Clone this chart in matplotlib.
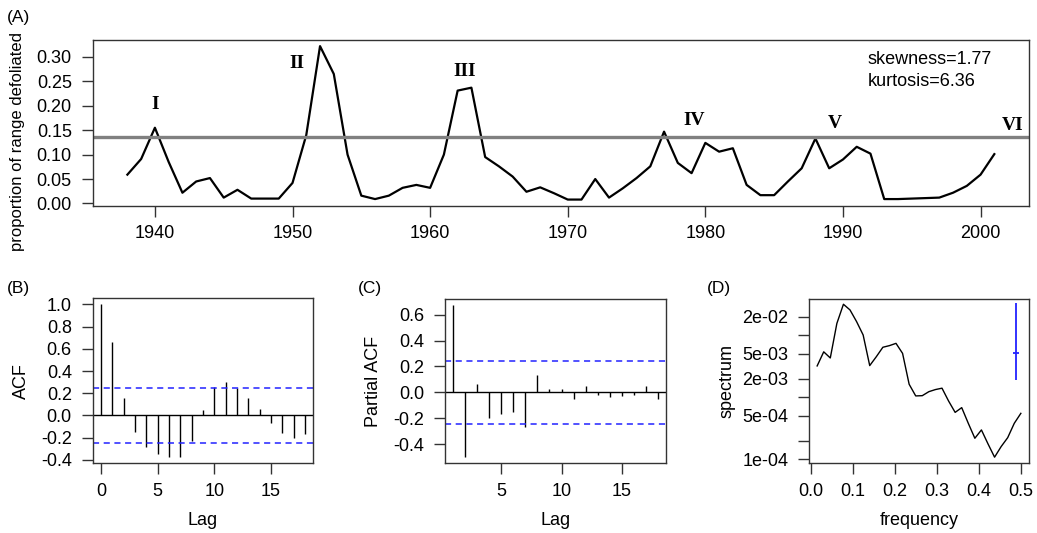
import numpy as np
import matplotlib
matplotlib.use("Agg")
import matplotlib.pyplot as plt

plt.rcParams['font.family'] = ['Liberation Sans', 'DejaVu Sans']

# (A) proportion of range defoliated, 1938-2001
years = np.arange(1938, 2002)
defol = [0.059, 0.091, 0.155, 0.085, 0.022, 0.045, 0.052, 0.012, 0.028, 0.010,
         0.010, 0.010, 0.042, 0.140, 0.322, 0.265, 0.100, 0.016, 0.009, 0.016,
         0.032, 0.038, 0.032, 0.100, 0.231, 0.237, 0.095, 0.076, 0.055, 0.024,
         0.033, 0.021, 0.008, 0.008, 0.050, 0.012, 0.031, 0.052, 0.076, 0.147,
         0.083, 0.062, 0.124, 0.106, 0.113, 0.038, 0.017, 0.017, 0.045, 0.072,
         0.133, 0.072, 0.090, 0.116, 0.102, 0.009, 0.009, 0.010, 0.011, 0.012,
         0.022, 0.036, 0.059, 0.101]
threshold = 0.137
outbreaks = ['I', 'II', 'III', 'IV', 'V', 'VI']
outbreak_x = [1940, 1950.3, 1962.5, 1979.2, 1989.4, 2002.3]
outbreak_y = [0.202, 0.287, 0.270, 0.170, 0.164, 0.159]
stats_text = ['skewness=1.77', 'kurtosis=6.36']

# (B) ACF
acf_lags = np.arange(0, 19)
acf_vals = [1.0, 0.663, 0.155, -0.149, -0.284, -0.346, -0.376, -0.376, -0.233,
            0.050, 0.260, 0.300, 0.245, 0.155, 0.060, -0.069, -0.158, -0.203, -0.167]

# (C) PACF
pacf_lags = np.arange(1, 19)
pacf_vals = [0.673, -0.499, 0.068, -0.196, -0.166, -0.151, -0.267, 0.136, 0.030,
             0.023, -0.050, 0.048, -0.020, -0.033, -0.025, -0.020, 0.048, -0.053]
conf = 0.245

# (D) raw periodogram, frequencies k/64
freq = np.arange(1, 33) / 64
spec = [3.2e-3, 5.4e-3, 4.3e-3, 1.55e-2, 3.16e-2, 2.56e-2, 1.66e-2, 1.01e-2,
        3.24e-3, 4.5e-3, 6.4e-3, 6.8e-3, 7.4e-3, 5.1e-3, 1.62e-3, 1.05e-3,
        1.06e-3, 1.23e-3, 1.33e-3, 1.40e-3, 8.7e-4, 5.7e-4, 6.8e-4, 3.8e-4,
        2.18e-4, 2.97e-4, 1.77e-4, 1.08e-4, 1.6e-4, 2.23e-4, 3.8e-4, 5.5e-4]
ci_freq = 0.488
ci_low, ci_mid, ci_high = 1.9e-3, 5.25e-3, 3.28e-2
ci_halfwidth = 0.0075
spec_ticks = [1e-4, 2e-4, 5e-4, 1e-3, 2e-3, 5e-3, 1e-2, 2e-2]
spec_ticklabels = ['1e-04', '', '5e-04', '', '2e-03', '5e-03', '', '2e-02']

W, H = 1037, 533
fig = plt.figure(figsize=(W / 100, H / 100), dpi=100)


def box(l, t, r, b):
    return [l / W, 1 - b / H, (r - l) / W, (b - t) / H]


def style(ax):
    for s in ax.spines.values():
        s.set_color('#333333')
        s.set_linewidth(1.0)
    ax.tick_params(direction='out', length=8, width=1, color='#333333',
                   labelsize=13, pad=7)
    ax.tick_params(axis='x', pad=6)


def rlim(vals, frac=0.04):
    lo, hi = min(vals), max(vals)
    d = (hi - lo) * frac
    return lo - d, hi + d


blue = '#2222ff'

# ---- (A)
axA = fig.add_axes(box(92.7, 40, 1029, 205.7))
style(axA)
axA.plot(years, defol, color='black', lw=1.6)
axA.axhline(threshold, color='#808080', lw=2.4)
for lab, x, y in zip(outbreaks, outbreak_x, outbreak_y):
    axA.text(x, y, lab, family='Liberation Serif', fontweight='bold',
             fontsize=14, ha='center', va='center')
axA.text(0.828, 0.883, stats_text[0], transform=axA.transAxes, fontsize=13,
         va='center', ha='left')
axA.text(0.828, 0.748, stats_text[1], transform=axA.transAxes, fontsize=13,
         va='center', ha='left')
axA.set_xlim(rlim(years))
axA.set_ylim(rlim(defol))
axA.set_xticks([1940, 1950, 1960, 1970, 1980, 1990, 2000])
axA.set_yticks(np.arange(0, 0.31, 0.05))
axA.set_yticklabels(['%.2f' % v for v in np.arange(0, 0.31, 0.05)])
axA.set_ylabel('proportion of range defoliated', fontsize=12)
axA.yaxis.set_label_coords(-0.0725, 0.39)

# ---- (B)
axB = fig.add_axes(box(92.7, 298.3, 313.3, 463.3))
style(axB)
axB.vlines(acf_lags, 0, acf_vals, color='black', lw=1)
axB.axhline(0, color='black', lw=1)
axB.axhline(conf, color=blue, lw=1.1, ls=(0, (4, 3)))
axB.axhline(-conf, color=blue, lw=1.1, ls=(0, (4, 3)))
axB.set_xlim(rlim(acf_lags))
axB.set_ylim(rlim(acf_vals))
axB.set_xticks([0, 5, 10, 15])
axB.set_yticks(np.round(np.arange(-0.4, 1.01, 0.2), 1))
axB.set_yticklabels(['%.1f' % v for v in np.arange(-0.4, 1.01, 0.2)])
axB.set_xlabel('Lag', fontsize=13, labelpad=9)
axB.set_ylabel('ACF', fontsize=13, labelpad=8)

# ---- (C)
axC = fig.add_axes(box(445, 299, 666, 463.3))
style(axC)
axC.vlines(pacf_lags, 0, pacf_vals, color='black', lw=1)
axC.axhline(0, color='black', lw=1)
axC.axhline(conf, color=blue, lw=1.1, ls=(0, (4, 3)))
axC.axhline(-conf, color=blue, lw=1.1, ls=(0, (4, 3)))
axC.set_xlim(rlim(pacf_lags))
axC.set_ylim(rlim(pacf_vals))
axC.set_xticks([5, 10, 15])
axC.set_yticks([-0.4, -0.2, 0.0, 0.2, 0.4, 0.6])
axC.set_yticklabels(['-0.4', '-0.2', '0.0', '0.2', '0.4', '0.6'])
axC.set_xlabel('Lag', fontsize=13, labelpad=9)
axC.set_ylabel('Partial ACF', fontsize=13, labelpad=8)

# ---- (D)
axD = fig.add_axes(box(809, 299.3, 1029, 463.3))
style(axD)
axD.plot(freq, spec, color='black', lw=1)
axD.vlines(ci_freq, ci_low, ci_high, color=blue, lw=1.3)
axD.hlines(ci_mid, ci_freq - ci_halfwidth, ci_freq + ci_halfwidth, color=blue, lw=1.3)
axD.set_yscale('log')
axD.set_xlim(rlim(freq))
axD.set_ylim(8.6e-5, 3.8e-2)
axD.set_yticks(spec_ticks)
axD.set_yticklabels(spec_ticklabels)
axD.minorticks_off()
axD.set_xticks([0.0, 0.1, 0.2, 0.3, 0.4, 0.5])
axD.set_xticklabels(['0.0', '0.1', '0.2', '0.3', '0.4', '0.5'])
axD.set_xlabel('frequency', fontsize=13, labelpad=9)
axD.set_ylabel('spectrum', fontsize=13, labelpad=5)

# panel letters
for lab, px, py in [('(A)', 7, 17.5), ('(B)', 7, 288), ('(C)', 357.7, 288), ('(D)', 707, 288)]:
    fig.text(px / W, 1 - py / H, lab, fontsize=12.5, ha='left', va='center')

fig.savefig('out.png', dpi=100)
